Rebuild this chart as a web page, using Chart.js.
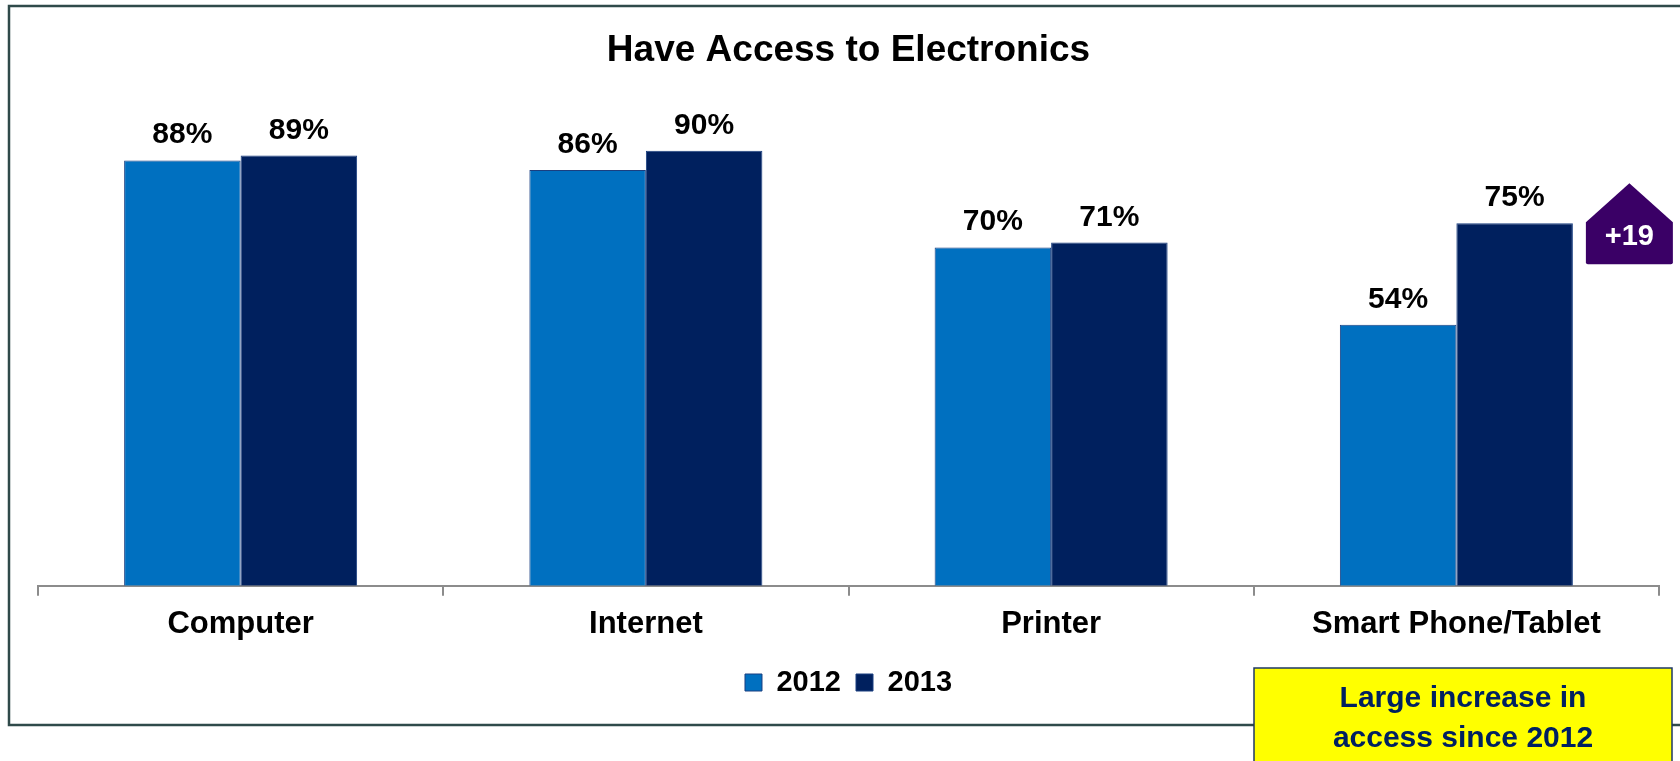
<!DOCTYPE html>
<html>
<head>
<meta charset="utf-8">
<script src="https://cdn.jsdelivr.net/npm/chart.js@4/dist/chart.umd.min.js"></script>
<style>
  html, body { margin: 0; padding: 0; background: #fff; }
  #wrap { width: 1680px; height: 761px; position: relative; }
</style>
</head>
<body>
<div id="wrap"><canvas id="chart" width="1680" height="761"></canvas></div>
<script>
// Data
const categories = ['Computer', 'Internet', 'Printer', 'Smart Phone/Tablet'];
const years = ['2012', '2013'];
const values2012 = [88, 86, 70, 54];
const values2013 = [89, 90, 71, 75];
const badgeText = '+19';
const noteLines = ['Large increase in', 'access since 2012'];

const FONT = 'Arial, "Liberation Sans", sans-serif';

// frame around the chart
const framePlugin = {
  id: 'frame',
  beforeDraw(chart) {
    const ctx = chart.ctx;
    ctx.save();
    ctx.strokeStyle = '#2f4a4a';
    ctx.lineWidth = 2.5;
    ctx.strokeRect(9, 6, 1700, 719);
    ctx.restore();
  }
};

// value labels above the bars
const valueLabels = {
  id: 'valueLabels',
  afterDatasetsDraw(chart) {
    const ctx = chart.ctx;
    ctx.save();
    ctx.font = 'bold 30px ' + FONT;
    ctx.fillStyle = '#000';
    ctx.textAlign = 'center';
    ctx.textBaseline = 'alphabetic';
    chart.data.datasets.forEach((ds, i) => {
      chart.getDatasetMeta(i).data.forEach((bar, j) => {
        ctx.fillText(ds.data[j] + '%', bar.x, bar.y - 17);
      });
    });
    ctx.restore();
  }
};

// +19 badge next to last bar, and the yellow note box
const extras = {
  id: 'extras',
  afterDraw(chart) {
    const ctx = chart.ctx;
    const meta = chart.getDatasetMeta(1);
    const bar = meta.data[meta.data.length - 1];
    const left = bar.x + bar.width / 2 + 13;
    const w = 87;
    const top = bar.y - 1;
    ctx.save();
    ctx.fillStyle = '#3a0066';
    ctx.beginPath();
    ctx.moveTo(left, top);
    ctx.lineTo(left + w / 2, top - 39);
    ctx.lineTo(left + w, top);
    ctx.lineTo(left + w, top + 40);
    ctx.quadraticCurveTo(left + w, top + 42, left + w - 2, top + 42);
    ctx.lineTo(left + 2, top + 42);
    ctx.quadraticCurveTo(left, top + 42, left, top + 40);
    ctx.closePath();
    ctx.fill();
    ctx.fillStyle = '#fff';
    ctx.font = 'bold 29px ' + FONT;
    ctx.textAlign = 'center';
    ctx.textBaseline = 'middle';
    ctx.fillText(badgeText, left + w / 2, top + 15);

    // note box
    ctx.fillStyle = '#ffff00';
    ctx.fillRect(1254, 668, 418, 110);
    ctx.strokeStyle = '#1f3864';
    ctx.lineWidth = 1.5;
    ctx.strokeRect(1254, 668, 418, 110);
    ctx.fillStyle = '#002060';
    ctx.font = 'bold 30px ' + FONT;
    ctx.fillText(noteLines[0], 1463, 699);
    ctx.fillText(noteLines[1], 1463, 739);
    ctx.restore();
  }
};

new Chart(document.getElementById('chart'), {
  type: 'bar',
  data: {
    labels: categories,
    datasets: [
      {
        label: years[0],
        data: values2012,
        backgroundColor: '#0070c0',
        borderColor: '#1a3f80',
        borderWidth: 1,
        categoryPercentage: 0.575,
        barPercentage: 1.0
      },
      {
        label: years[1],
        data: values2013,
        backgroundColor: '#00205e',
        borderColor: '#1a3f80',
        borderWidth: 1,
        categoryPercentage: 0.575,
        barPercentage: 1.0
      }
    ]
  },
  options: {
    responsive: false,
    animation: false,
    layout: { padding: { left: 38, right: 21, top: 0, bottom: 54 } },
    scales: {
      x: {
        grid: {
          drawOnChartArea: false,
          drawTicks: true,
          tickLength: 10,
          color: '#8c8c8c',
          lineWidth: 2,
          offset: true
        },
        border: { display: true, color: '#8c8c8c', width: 2 },
        ticks: {
          color: '#000',
          font: { family: FONT, size: 31, weight: 'bold' },
          padding: 10
        }
      },
      y: {
        display: false,
        min: 0,
        max: 100
      }
    },
    plugins: {
      title: {
        display: true,
        text: 'Have Access to Electronics',
        color: '#000',
        font: { family: FONT, size: 37, weight: 'bold' },
        padding: { top: 29, bottom: 29 }
      },
      legend: {
        position: 'bottom',
        labels: {
          color: '#000',
          font: { family: FONT, size: 29, weight: 'bold' },
          boxWidth: 17,
          boxHeight: 17,
          padding: 15
        }
      },
      tooltip: { enabled: false }
    }
  },
  plugins: [framePlugin, valueLabels, extras]
});
</script>
</body>
</html>
